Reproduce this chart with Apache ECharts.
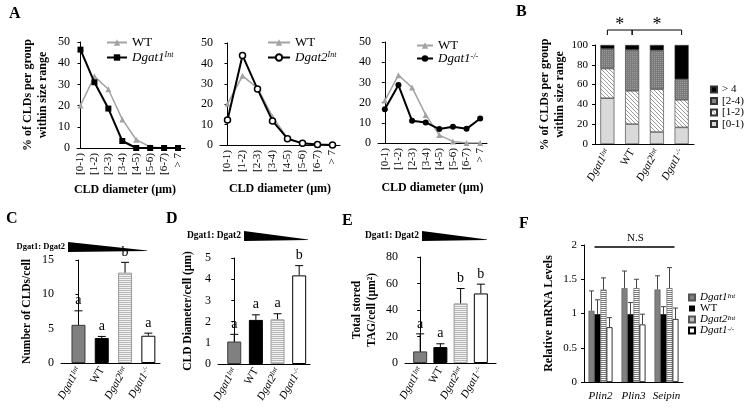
<!DOCTYPE html>
<html><head><meta charset="utf-8">
<script src="https://cdn.jsdelivr.net/npm/echarts@6/dist/echarts.min.js"></script>
<style>html,body{margin:0;padding:0;background:#fff}#c{width:754px;height:412px}</style>
</head><body><div id="c"></div>
<script>
// ---------- DATA ----------
const sizeCats = ['[0-1)','[1-2)','[2-3)','[3-4)','[4-5)','[5-6)','[6-7)','> 7'];
const a1WT       = [20.1, 33.8, 27.7, 13.5, 3.9, 0.5, 0, 0];
const a1Dgat1Int = [46.4, 31.0, 18.6, 3.3, 0, 0, 0, 0];
const a2WT       = [20.2, 33.9, 27.9, 13.9, 3.3, 0.8, 0, 0];
const a2Dgat2Int = [12.3, 43.9, 27.4, 11.8, 3.1, 0.8, 0.2, 0];
const a3WT       = [21.0, 33.6, 27.5, 13.9, 3.9, 0.8, 0, 0];
const a3Dgat1KO  = [16.7, 28.7, 11.0, 10.2, 6.9, 8.0, 7.0, 12.1];

const groups = ['Dgat1Int','WT','Dgat2Int','Dgat1KO'];
const bBins = ['[0-1)','[1-2)','[2-4)','> 4'];
const b01 = [46.3, 20.1, 12.1, 16.8];
const b12 = [29.9, 33.6, 43.3, 27.8];
const b24 = [19.8, 41.3, 39.2, 20.8];
const b4  = [4.0, 5.0, 5.4, 34.6];
const bSig = [[0,1],[1,3]];

const cVals = [5.56, 3.63, 13.16, 3.97];
const cErr  = [7.6, 3.87, 14.66, 4.35];
const cLet  = ['a','a','b','a'];
const dVals = [1.06, 2.08, 2.11, 4.18];
const dErr  = [1.4, 2.32, 2.37, 4.64];
const dLet  = ['a','a','a','b'];
const eVals = [8.75, 12.0, 45.0, 52.5];
const eErr  = [22.0, 14.5, 56.2, 59.5];
const eLet  = ['a','a','b','b'];

const genes = ['Plin2','Plin3','Seipin'];
const fDgat1Int = [1.04, 1.37, 1.35];
const fDgat1IntErr = [1.33, 1.62, 1.55];
const fWT = [0.99, 0.99, 0.99];
const fWTErr = [1.20, 1.16, 1.10];
const fDgat2Int = [1.35, 1.37, 1.37];
const fDgat2IntErr = [1.52, 1.50, 1.67];
const fDgat1KO = [0.80, 0.84, 0.92];
const fDgat1KOErr = [0.94, 0.99, 1.08];

// ---------- STYLE HELPERS ----------
const FONT = '"Liberation Serif", "Times New Roman", serif';
function pat(w,h,fn){const c=document.createElement('canvas');c.width=w;c.height=h;const x=c.getContext('2d');fn(x);return {image:c,repeat:'repeat'};}
const hLight = pat(2,2,x=>{x.fillStyle='#f2f2f2';x.fillRect(0,0,2,2);x.fillStyle='#b8b8b8';x.fillRect(0,0,2,1);});
const hDark  = pat(2,2,x=>{x.fillStyle='#ffffff';x.fillRect(0,0,2,2);x.fillStyle='#7a7a7a';x.fillRect(0,0,2,1);});
const diag   = pat(4,4,x=>{x.fillStyle='#ffffff';x.fillRect(0,0,4,4);x.fillStyle='#9a9a9a';for(let i=0;i<4;i++)x.fillRect(i,i,1,1);});
const dots   = pat(2,2,x=>{x.fillStyle='#7c7c7c';x.fillRect(0,0,2,2);x.fillStyle='#9a9a9a';x.fillRect(0,0,1,1);});

function rich(fs){return {n:{fontFamily:FONT,fontSize:fs,color:'#000'},i:{fontFamily:FONT,fontSize:fs,fontStyle:'italic',color:'#000'},s:{fontFamily:FONT,fontSize:Math.round(fs*0.62),fontStyle:'italic',verticalAlign:'top',color:'#000'}};}
const LBL = {WT:'{n|WT}', Dgat1Int:'{i|Dgat1}{s|Int}', Dgat2Int:'{i|Dgat2}{s|Int}', Dgat1KO:'{i|Dgat1}{s|-/-}'};
function lblOf(n){const k=n.replace(/_.*$/,'');return LBL[k]||n;}
function catFmt(cats, mapFn){return v=>{const r=Math.round(v);if(Math.abs(v-r)>1e-6||r<0||r>=cats.length)return '';return mapFn?mapFn(cats[r]):cats[r];};}

const nameTS = (fs,lh)=>({fontFamily:FONT,fontWeight:'bold',fontSize:fs,color:'#000',lineHeight:lh||fs+2});
function yAx(gi,min,max,iv,name,gap,fs,nfs,extra){return Object.assign({gridIndex:gi,type:'value',min:min,max:max,interval:iv,
  axisLine:{show:true,lineStyle:{color:'#000',width:1}},axisTick:{show:true,length:3,inside:false,lineStyle:{color:'#000'}},
  splitLine:{show:false},axisLabel:{fontFamily:FONT,fontSize:fs,color:'#000',margin:7},
  name:name,nameLocation:'middle',nameRotate:90,nameGap:gap,nameTextStyle:nameTS(nfs,nfs+3)},extra||{});}
function xValAx(gi,min,max,cats,rot,fs,mapFn,extra){return Object.assign({gridIndex:gi,type:'value',min:min,max:max,interval:0.25,
  axisLine:{show:true,onZero:false,lineStyle:{color:'#000',width:1}},axisTick:{show:false},splitLine:{show:false},
  axisLabel:{rotate:rot,fontFamily:FONT,fontSize:fs,color:'#000',margin:5,formatter:catFmt(cats,mapFn),rich:rich(fs)}},extra||{});}

const barStyles = [
  {color:'#808080',borderColor:'#3a3a3a',borderWidth:1},
  {color:'#000000',borderColor:'#000',borderWidth:1},
  {color:hLight,borderColor:'#9a9a9a',borderWidth:1},
  {color:'#ffffff',borderColor:'#000',borderWidth:1}];

function errRender(letters){return (params,api)=>{const i=params.dataIndex;
  const t=api.coord([api.value(0),api.value(1)]), b=api.coord([api.value(0),api.value(2)]);
  return {type:'group',children:[
   {type:'line',shape:{x1:t[0],y1:b[1],x2:t[0],y2:t[1]},style:{stroke:'#000',lineWidth:1}},
   {type:'line',shape:{x1:t[0]-4,y1:t[1],x2:t[0]+4,y2:t[1]},style:{stroke:'#000',lineWidth:1}},
   {type:'text',style:{text:letters[i],x:t[0],y:t[1]-3,align:'center',verticalAlign:'bottom',textAlign:'center',textVerticalAlign:'bottom',font:'14px '+FONT,fill:'#000'}}]};};}

function fErrRender(off){return (params,api)=>{const t=api.coord([api.value(0),api.value(1)]), b=api.coord([api.value(0),api.value(2)]);const x=t[0]+off;
  return {type:'group',children:[
   {type:'line',shape:{x1:x,y1:b[1],x2:x,y2:t[1]},style:{stroke:'#444',lineWidth:1}},
   {type:'line',shape:{x1:x-2.5,y1:t[1],x2:x+2.5,y2:t[1]},style:{stroke:'#444',lineWidth:1}}]};};}

// ---------- OPTION ----------
const grids = [
  {left:77,top:42,width:108,height:106},   // A1
  {left:220,top:43,width:120,height:102},  // A2
  {left:378,top:42,width:109,height:101},  // A3
  {left:595,top:45,width:99,height:99},    // B
  {left:61,top:260,width:99,height:103},   // C
  {left:218,top:258,width:92,height:106},  // D
  {left:405,top:257,width:91,height:106},  // E
  {left:584,top:245,width:99,height:137}   // F
];

const aYName = '% of CLDs per group\nwithin size range';
const xAxes = [
  xValAx(0,-0.25,7.5,sizeCats,90,11,null,{name:'CLD diameter (µm)',nameLocation:'middle',nameGap:35,nameTextStyle:Object.assign(nameTS(12),{padding:[0,12,0,0]})}),
  xValAx(1,-0.5,7.5,sizeCats,90,11,null,{name:'CLD diameter (µm)',nameLocation:'middle',nameGap:37,nameTextStyle:nameTS(12)}),
  xValAx(2,-0.5,7.5,sizeCats,90,11,null,{name:'CLD diameter (µm)',nameLocation:'middle',nameGap:38,nameTextStyle:nameTS(12)}),
  {gridIndex:3,type:'category',data:groups,axisLine:{show:true,lineStyle:{color:'#000'}},axisTick:{show:false},
    axisLabel:{interval:0,rotate:60,margin:6,formatter:v=>LBL[v],rich:rich(11)}},
  xValAx(4,-0.75,3.5,groups,60,11,v=>LBL[v]),
  xValAx(5,-0.75,3.5,groups,60,11,v=>LBL[v]),
  xValAx(6,-0.75,3.75,groups,60,11,v=>LBL[v]),
  {gridIndex:7,type:'category',data:genes,axisLine:{show:true,lineStyle:{color:'#000'}},axisTick:{show:false},
    axisLabel:{interval:0,margin:9,fontFamily:FONT,fontSize:11,fontStyle:'italic',color:'#000'}}
];
const yAxes = [
  yAx(0,0,50,10,aYName,27,12,12),
  yAx(1,0,50,10,'',20,12,12),
  yAx(2,0,50,10,'',20,12,12),
  yAx(3,0,100,20,aYName,27,11,12),
  yAx(4,0,15,5,'Number of CLDs/cell',27,12,11.5),
  yAx(5,0,5,1,'CLD Diameter/cell (µm)',23,12,11.5),
  yAx(6,0,80,20,'Total stored\nTAG/cell (µm²)',26,12,11.5),
  yAx(7,0,2,0.5,'Relative mRNA Levels',28,11,12)
];

const lineSeries = [];
function aPair(gi, wt, other, oname, ostyle){
  lineSeries.push({type:'line',name:'WT',xAxisIndex:gi,yAxisIndex:gi,data:wt.map((v,i)=>[i,v]),symbol:'triangle',symbolSize:6,
    lineStyle:{color:'#a3a3a3',width:1.5},itemStyle:{color:'#a3a3a3'},z:2});
  lineSeries.push(Object.assign({type:'line',name:oname,xAxisIndex:gi,yAxisIndex:gi,data:other.map((v,i)=>[i,v]),
    lineStyle:{color:'#000',width:2},z:3},ostyle));
}
aPair(0,a1WT,a1Dgat1Int,'Dgat1Int',{symbol:'rect',symbolSize:6,itemStyle:{color:'#000'}});
aPair(1,a2WT,a2Dgat2Int,'Dgat2Int',{symbol:'circle',symbolSize:6,itemStyle:{color:'#fff',borderColor:'#000',borderWidth:1.5}});
aPair(2,a3WT,a3Dgat1KO,'Dgat1KO',{symbol:'circle',symbolSize:6,itemStyle:{color:'#000'}});

const bColors = ['#d9d9d9',diag,dots,'#000'];
const bSeries = [b01,b12,b24,b4].map((arr,k)=>({type:'bar',name:bBins[k],xAxisIndex:3,yAxisIndex:3,stack:'B',barWidth:14,
  data:arr,itemStyle:{color:bColors[k],borderColor:'#333',borderWidth:0.6}}));
bSeries.push({type:'custom',xAxisIndex:3,yAxisIndex:3,clip:false,silent:true,data:bSig,encode:{x:[0,1]},
  renderItem:(params,api)=>{const p0=api.coord([api.value(0),100]),p1=api.coord([api.value(1),100]);const y=p0[1]-15;
    return {type:'group',children:[
      {type:'polyline',shape:{points:[[p0[0],y+5],[p0[0],y],[p1[0],y],[p1[0],y+5]]},style:{stroke:'#000',lineWidth:1,fill:null}},
      {type:'text',style:{text:'*',x:(p0[0]+p1[0])/2,y:y+4,align:'center',verticalAlign:'bottom',textAlign:'center',textVerticalAlign:'bottom',font:'18px '+FONT,fill:'#000'}}]};}});

function barPanel(gi, vals, errs, letters){
  return [
    {type:'bar',xAxisIndex:gi,yAxisIndex:gi,barWidth:14,data:vals.map((v,i)=>({value:[i,v],itemStyle:barStyles[i]}))},
    {type:'custom',xAxisIndex:gi,yAxisIndex:gi,clip:false,silent:true,z:5,data:errs.map((e,i)=>[i,e,vals[i]]),encode:{x:0,y:[1,2]},renderItem:errRender(letters)}
  ];
}

const fSets = [
  ['Dgat1Int_F',fDgat1Int,fDgat1IntErr,{color:'#808080',borderColor:'#555',borderWidth:0.6}],
  ['WT_F',fWT,fWTErr,{color:'#000'}],
  ['Dgat2Int_F',fDgat2Int,fDgat2IntErr,{color:hDark,borderColor:'#555',borderWidth:0.6}],
  ['Dgat1KO_F',fDgat1KO,fDgat1KOErr,{color:'#fff',borderColor:'#000',borderWidth:0.8}]
];
const fSeries = [];
fSets.forEach((s,k)=>{
  fSeries.push({type:'bar',name:s[0],xAxisIndex:7,yAxisIndex:7,barWidth:6,barGap:'0%',data:s[1],itemStyle:s[3]});
});
fSets.forEach((s,k)=>{
  fSeries.push({type:'custom',xAxisIndex:7,yAxisIndex:7,clip:false,silent:true,z:5,data:s[2].map((e,i)=>[i,e,s[1][i]]),encode:{x:0,y:[1,2]},renderItem:fErrRender((k-1.5)*6)});
});
fSeries.push({type:'custom',xAxisIndex:7,yAxisIndex:7,clip:false,silent:true,data:[[0,2]],encode:{x:0,y:1},
  renderItem:(params,api)=>{const a=api.coord([0,2]),b=api.coord([genes.length-1,2]);const y=a[1]+2;
    return {type:'group',children:[
      {type:'line',shape:{x1:a[0]-6,y1:y,x2:b[0]+8,y2:y},style:{stroke:'#000',lineWidth:1.6}},
      {type:'text',style:{text:'N.S',x:(a[0]+b[0])/2+2,y:y-3,align:'center',verticalAlign:'bottom',textAlign:'center',textVerticalAlign:'bottom',font:'11px '+FONT,fill:'#000'}}]};}});

const legTS = (fs,lh)=>({fontFamily:FONT,fontSize:fs,color:'#000',lineHeight:lh,rich:rich(fs)});
const legends = [
  {data:['WT','Dgat1Int'],left:106,top:36,orient:'vertical',itemWidth:20,itemHeight:8,itemGap:2,padding:0,textStyle:legTS(13,13),formatter:lblOf},
  {data:['WT','Dgat2Int'],left:267,top:36,orient:'vertical',itemWidth:22,itemHeight:8,itemGap:2,padding:0,textStyle:legTS(13,13),formatter:lblOf},
  {data:['WT','Dgat1KO'],left:416,top:39,orient:'vertical',itemWidth:16,itemHeight:8,itemGap:0,padding:0,textStyle:legTS(13,12),formatter:lblOf},
  {data:['> 4','[2-4)','[1-2)','[0-1)'],left:710,top:84,orient:'vertical',itemWidth:6,itemHeight:6,itemGap:0.5,padding:0,icon:'rect',textStyle:legTS(11,9)},
  {data:['Dgat1Int_F','WT_F','Dgat2Int_F','Dgat1KO_F'],left:688,top:292,orient:'vertical',itemWidth:6,itemHeight:6,itemGap:0,padding:0,icon:'rect',textStyle:legTS(11,10),formatter:lblOf}
];

function letter(t,x,y){return {type:'text',left:x,top:y,style:{text:t,font:'bold 16px '+FONT,fill:'#000'}};}
function wedge(x0,x1,yc,label,fs){return [
  {type:'polygon',shape:{points:[[x0,yc-5],[x1,yc+3.5],[x1,yc+4],[x0,yc+5]]},style:{fill:'#000'}},
  {type:'text',x:x0-3,y:yc,style:{text:label,font:'bold '+fs+'px '+FONT,fill:'#000',align:'right',verticalAlign:'middle',textAlign:'right',textVerticalAlign:'middle'}}];}

const graphic = [
  letter('A',9,6), letter('B',516,4), letter('C',6,211), letter('D',166,211), letter('E',342,213), letter('F',519,216),
  ...wedge(68,147,247,'Dgat1: Dgat2',8.5),
  ...wedge(244,308,236,'Dgat1: Dgat2',9.5),
  ...wedge(422,487,236,'Dgat1: Dgat2',9.5)
];

const option = {
  animation:false, backgroundColor:'#fff', textStyle:{fontFamily:FONT},
  grid:grids, xAxis:xAxes, yAxis:yAxes, legend:legends, graphic:graphic,
  series:[...lineSeries, ...bSeries,
    ...barPanel(4,cVals,cErr,cLet), ...barPanel(5,dVals,dErr,dLet), ...barPanel(6,eVals,eErr,eLet),
    ...fSeries]
};
const chart = echarts.init(document.getElementById('c'),null,{renderer:'canvas'});
chart.setOption(option);
</script></body></html>
